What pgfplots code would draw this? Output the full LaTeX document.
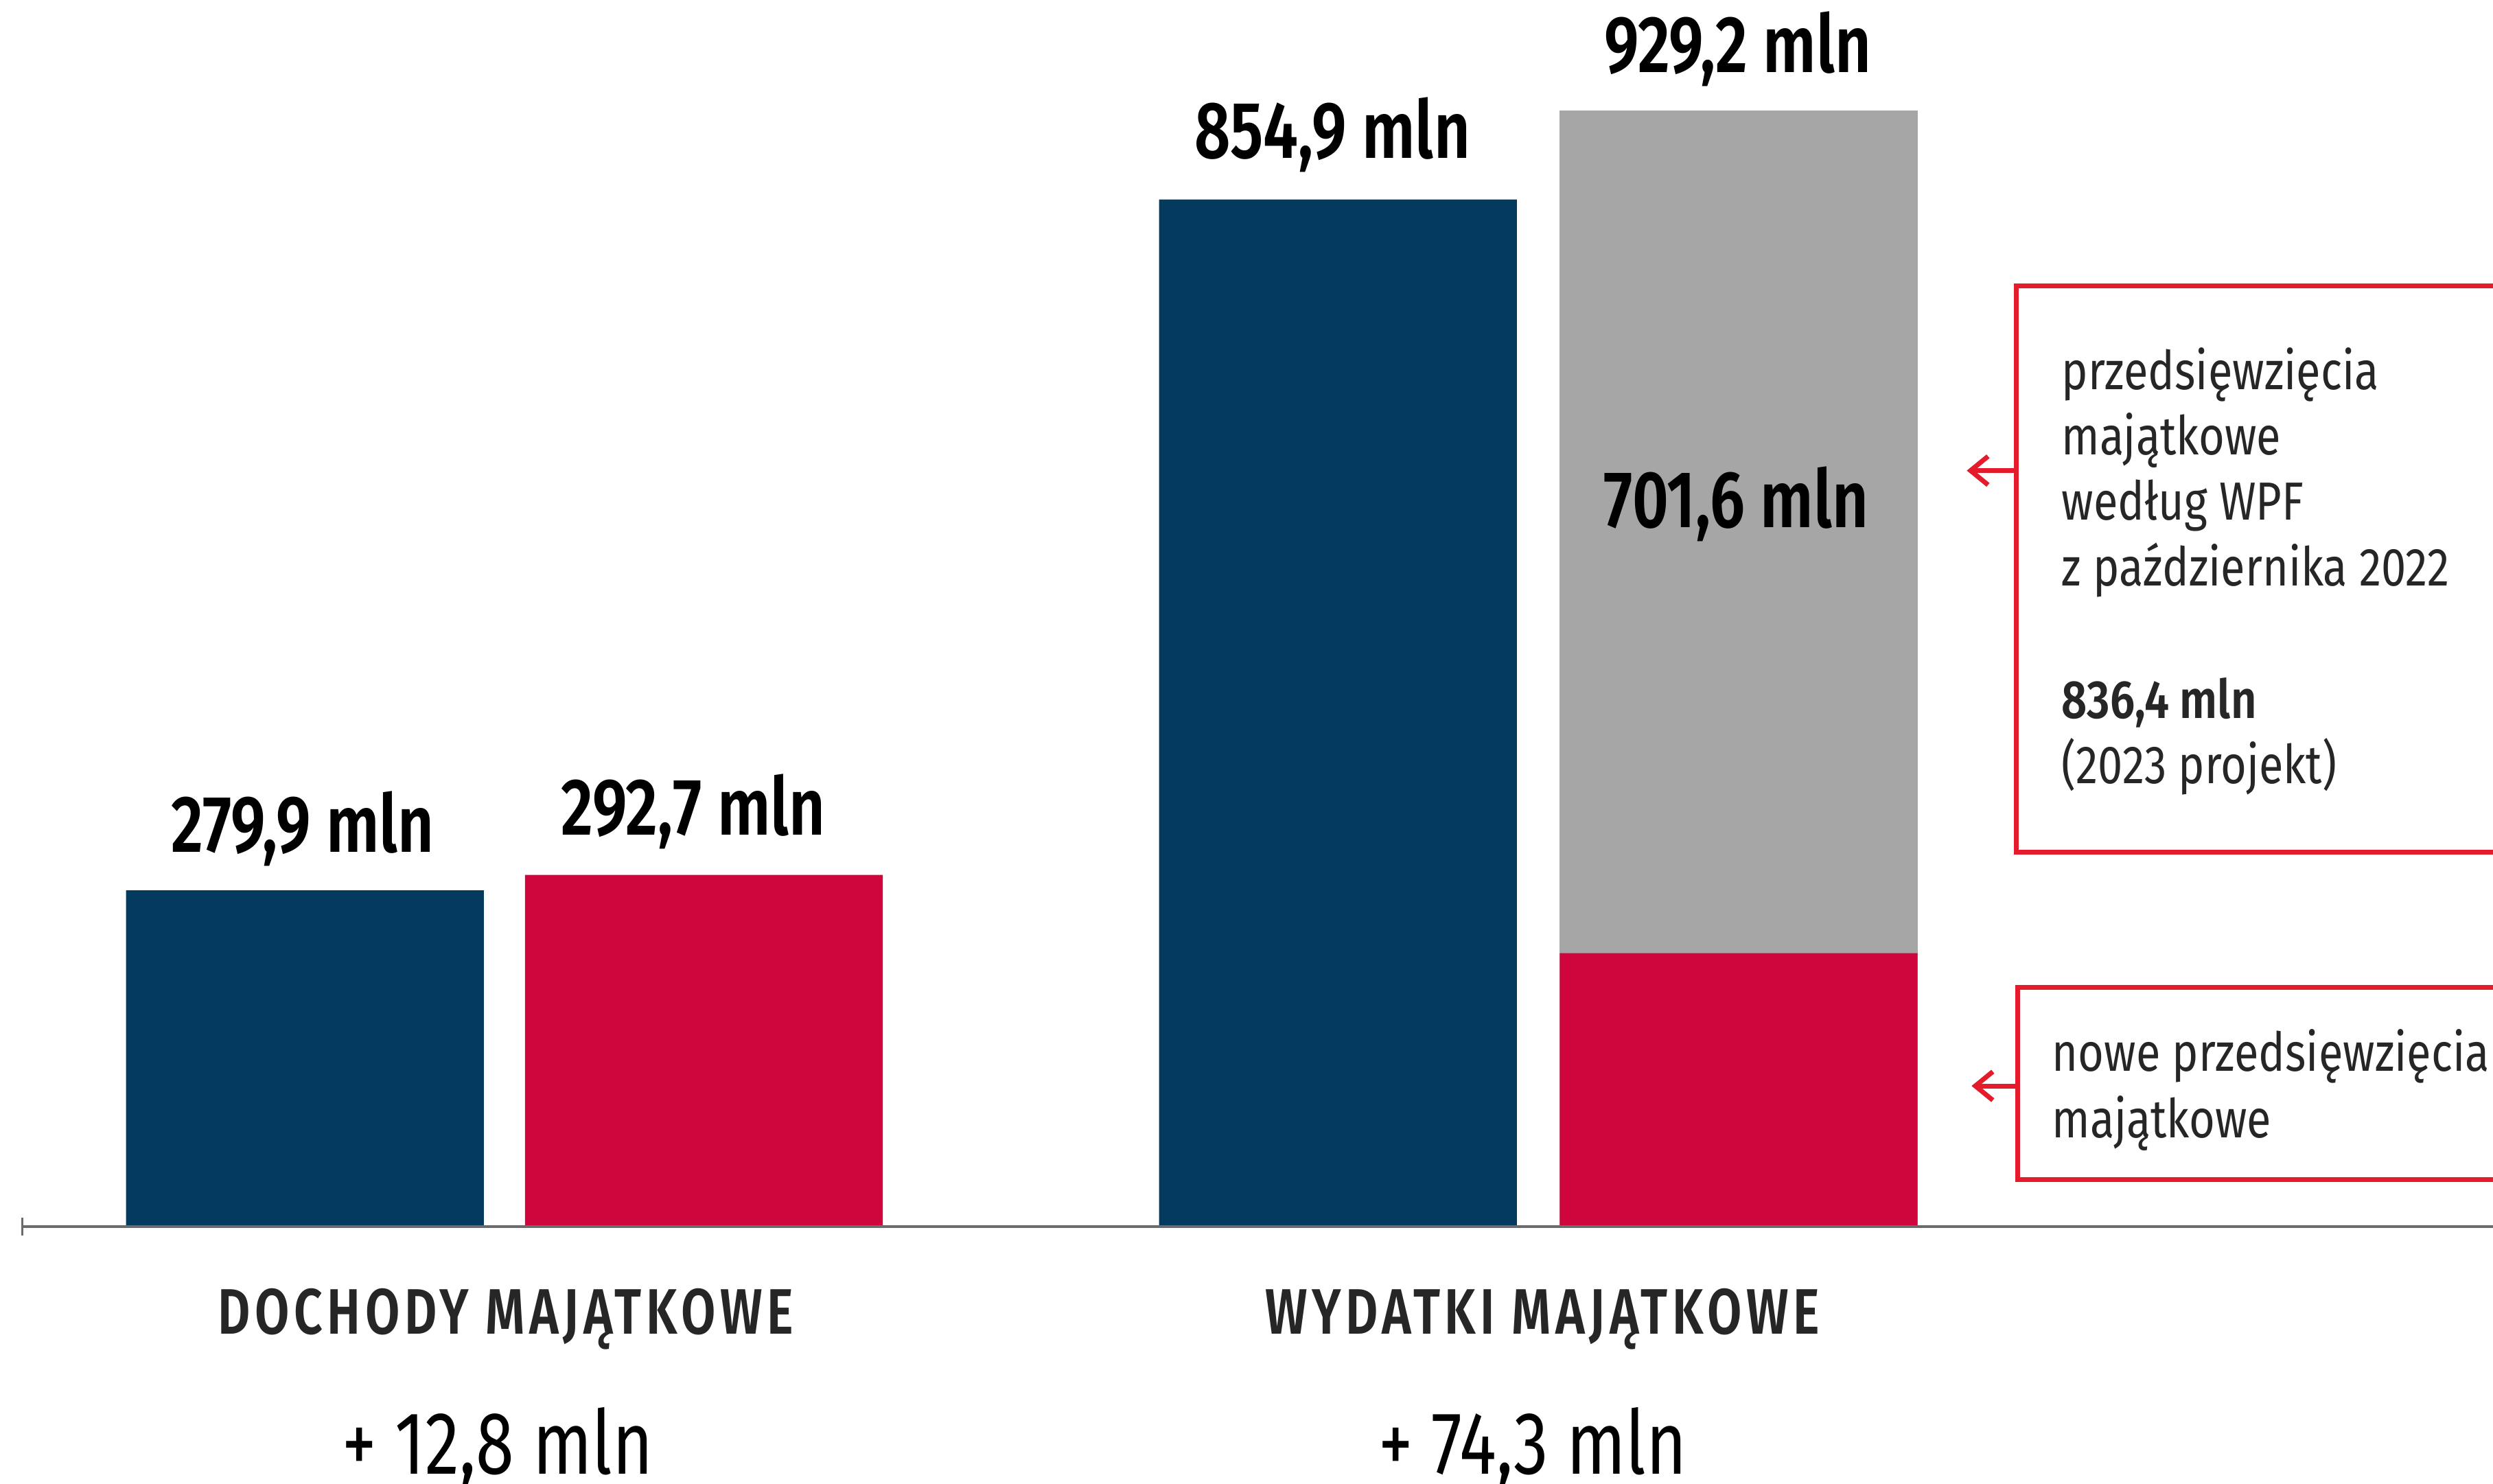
\documentclass[border=0pt]{standalone}
\usepackage{fontspec}
\setmainfont{Fira Sans}[FakeStretch=0.78, BoldFont={Fira Sans SemiBold}]
\newfontfamily\catfont{Fira Sans SemiBold}[FakeStretch=0.78, LetterSpace=7]
\newfontfamily\annfont{Fira Sans}[FakeStretch=0.83, BoldFont={Fira Sans SemiBold}]
\usepackage{pgfplots}
\pgfplotsset{compat=1.18}
\usetikzlibrary{arrows.meta}
\definecolor{navy}{HTML}{043A5E}
\definecolor{barred}{HTML}{CE063D}
\definecolor{bargray}{HTML}{A6A6A6}
\definecolor{boxred}{HTML}{E31B2B}
\definecolor{txt}{HTML}{262626}
\definecolor{axisgray}{HTML}{6B6B6B}
\newcommand{\valfont}{\fontsize{14.4pt}{17pt}\selectfont\bfseries}
\newcommand{\boxfont}{\annfont\fontsize{9.6pt}{11.5pt}\selectfont}
\begin{document}
\begin{tikzpicture}
\begin{scope}
\clip (0,0) rectangle (156.8mm,93.3mm);
\begin{axis}[
  at={(1.4mm,16.15mm)}, anchor=south west,
  scale only axis, width=158.6mm, height=77.15mm,
  xmin=14, xmax=1600, ymin=0, ymax=1021,
  axis x line=bottom, axis y line=none,
  axis line style={-, draw=axisgray, line width=0.2mm},
  xtick=\empty, ytick=\empty,
  axis on top,
  clip=false,
]
\addplot[ybar, bar width=225, bar shift=0pt, fill=navy, draw=none]
  coordinates {(191.75,279.9) (841.5,854.9)};
\addplot[ybar, bar width=225, bar shift=0pt, fill=bargray, draw=none]
  coordinates {(1093.5,929.2)};
\addplot[ybar, bar width=225, bar shift=0pt, fill=barred, draw=none]
  coordinates {(442.75,292.7) (1093.5,227.6)};
\node[anchor=base, yshift=2.4mm, font=\valfont] at (axis cs:190.5,279.9) {279,9 mln};
\node[anchor=base, yshift=2.5mm, font=\valfont] at (axis cs:436,292.7) {292,7 mln};
\node[anchor=base, yshift=2.6mm, font=\valfont] at (axis cs:838,854.9) {854,9 mln};
\node[anchor=base, yshift=2.4mm, font=\valfont] at (axis cs:1093,929.2) {929,2 mln};
\node[anchor=base, font=\valfont] at (axis cs:1092,581.7) {701,6 mln};
\end{axis}
\draw[axisgray, line width=0.15mm] (1.4mm,15.6mm) -- (1.4mm,16.7mm);
\begin{scope}[x=0.1mm, y=-0.1mm, shift={(0,93.3mm)}]
\node[anchor=base, text=txt, font=\catfont\fontsize{11.5pt}{14pt}\selectfont] at (318,839) {DOCHODY MAJĄTKOWE};
\node[anchor=base, text=txt, font=\catfont\fontsize{11.5pt}{14pt}\selectfont] at (970,839) {WYDATKI MAJĄTKOWE};
\node[anchor=base, font=\fontsize{15.9pt}{19pt}\selectfont] at (313,927) {+ 12,8 mln};
\node[anchor=base, font=\fontsize{15.9pt}{19pt}\selectfont] at (964,927) {+ 74,3 mln};
% box 1
\draw[boxred, line width=0.3mm] (1700,180) -- (1268,180) -- (1268,536) -- (1700,536);
\draw[boxred, line width=0.3mm, -{Straight Barb[length=1.1mm,width=1.8mm]}] (1268,296) -- (1237,296);
\node[anchor=base west, inner sep=0pt, text=txt, font=\boxfont] at (1296,245) {przedsięwzięcia};
\node[anchor=base west, inner sep=0pt, text=txt, font=\boxfont] at (1296,286) {majątkowe};
\node[anchor=base west, inner sep=0pt, text=txt, font=\boxfont] at (1296,327) {według WPF};
\node[anchor=base west, inner sep=0pt, text=txt, font=\boxfont] at (1296,368.5) {z października 2022};
\node[anchor=base west, inner sep=0pt, text=txt, font=\boxfont\bfseries] at (1296,452) {836,4 mln};
\node[anchor=base west, inner sep=0pt, text=txt, font=\boxfont] at (1296,493) {(2023 projekt)};
% box 2
\draw[boxred, line width=0.3mm] (1700,621) -- (1269,621) -- (1269,742) -- (1700,742);
\draw[boxred, line width=0.3mm, -{Straight Barb[length=1.1mm,width=1.8mm]}] (1269,683) -- (1240,683);
\node[anchor=base west, inner sep=0pt, text=txt, font=\boxfont] at (1290,673.5) {nowe przedsięwzięcia};
\node[anchor=base west, inner sep=0pt, text=txt, font=\boxfont] at (1290,715.7) {majątkowe};
\end{scope}
\end{scope}
\pgfresetboundingbox
\useasboundingbox (0,0) rectangle (156.8mm,93.3mm);
\end{tikzpicture}
\end{document}
